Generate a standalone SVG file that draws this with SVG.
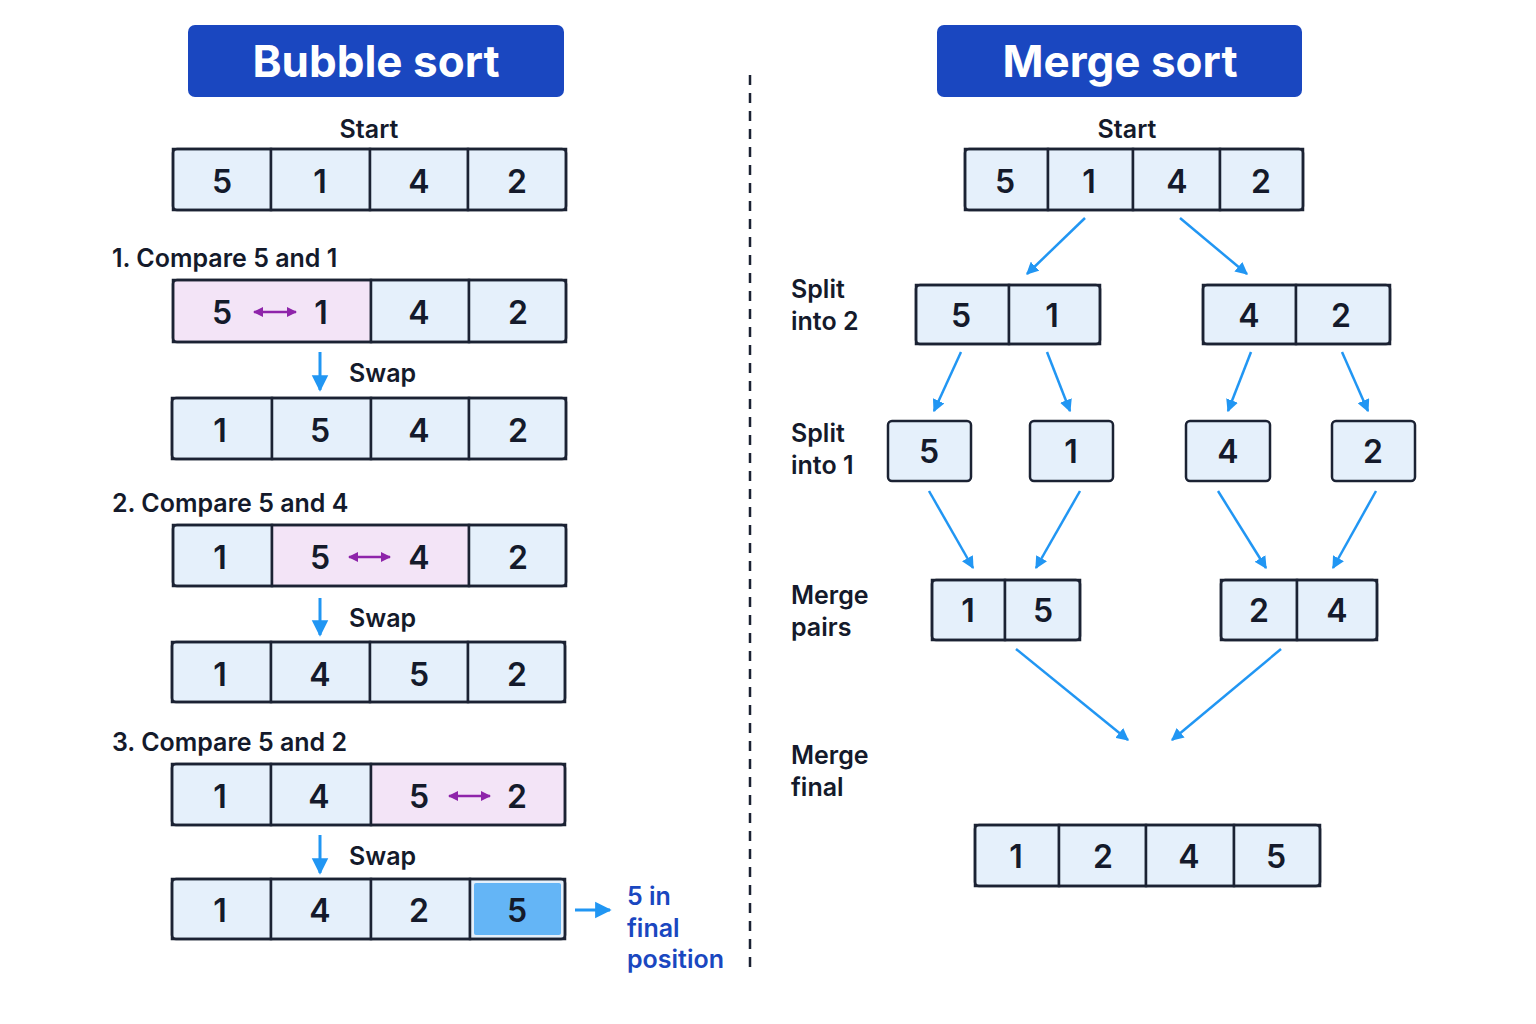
<svg xmlns="http://www.w3.org/2000/svg" width="1536" height="1024" viewBox="0 0 1536 1024">
<style>
.c{fill:#e5f0fb;stroke:#1b2233;stroke-width:2.5}
.p{fill:#f3e4f7;stroke:#1b2233;stroke-width:2.5}
.h{fill:#64b5f6;stroke:none}
.o{fill:none;stroke:#1b2233;stroke-width:2.5}
.n{font-family:Inter,"Liberation Sans",sans-serif;font-size:32px;font-weight:600;fill:#141a2b;text-anchor:middle}
.l{font-family:Inter,"Liberation Sans",sans-serif;font-size:25px;font-weight:600;fill:#141a2b}
.t{font-family:Inter,"Liberation Sans",sans-serif;font-size:44px;font-weight:700;fill:#fff;text-anchor:middle}
.a{stroke:#2196f3;stroke-width:2.5;fill:none;marker-end:url(#ah)}
.b{stroke:#2196f3;stroke-width:3;fill:none;marker-end:url(#ah2)}
.d{stroke:#8e24aa;stroke-width:2.5;marker-start:url(#pa);marker-end:url(#pa)}
</style>
<defs>
<marker id="ah" viewBox="0 0 10 10" refX="9" refY="5" markerWidth="5" markerHeight="5" orient="auto"><path d="M0,0L10,5L0,10z" fill="#2196f3"/></marker>
<marker id="ah2" viewBox="0 0 10 10" refX="9" refY="5" markerWidth="5.5" markerHeight="6" orient="auto"><path d="M0,0L10,5L0,10z" fill="#2196f3"/></marker>
<marker id="pa" viewBox="0 0 10 10" refX="9" refY="5" markerWidth="4" markerHeight="4" orient="auto-start-reverse"><path d="M0,0L10,5L0,10z" fill="#8e24aa"/></marker>
</defs>
<rect width="1536" height="1024" fill="#fff"/>
<g id="title-bubble"><rect x="188" y="25" width="376" height="72" rx="7" fill="#1a47c0"/><text class="t" x="376" y="77">Bubble sort</text></g>
<g id="title-merge"><rect x="937" y="25" width="365" height="72" rx="7" fill="#1a47c0"/><text class="t" x="1120" y="77">Merge sort</text></g>
<line x1="750" y1="75" x2="750" y2="970" stroke="#1b2233" stroke-width="2.5" stroke-dasharray="10,8"/>

<g id="b-start"><text class="l" x="369" y="138" text-anchor="middle">Start</text>
<rect class="c" x="173" y="149" width="98" height="61"/><rect class="c" x="271" y="149" width="99" height="61"/><rect class="c" x="370" y="149" width="98" height="61"/><rect class="c" x="468" y="149" width="98" height="61"/><rect class="o" x="173" y="149" width="393" height="61" rx="4"/>
<text class="n" x="222" y="193">5</text><text class="n" x="320" y="193">1</text><text class="n" x="419" y="193">4</text><text class="n" x="517" y="193">2</text></g>

<g id="b-step1"><text class="l" x="112" y="267">1. Compare 5 and 1</text>
<rect class="p" x="173" y="280" width="198" height="62"/><rect class="c" x="371" y="280" width="98" height="62"/><rect class="c" x="469" y="280" width="97" height="62"/><rect class="o" x="173" y="280" width="393" height="62" rx="4"/>
<text class="n" x="222" y="324">5</text><line class="d" x1="254" y1="312" x2="296" y2="312"/><text class="n" x="321" y="324">1</text><text class="n" x="419" y="324">4</text><text class="n" x="518" y="324">2</text></g>
<g id="b-swap1"><text class="l" x="349" y="382">Swap</text>
<rect class="c" x="172" y="398" width="100" height="61"/><rect class="c" x="272" y="398" width="99" height="61"/><rect class="c" x="371" y="398" width="98" height="61"/><rect class="c" x="469" y="398" width="97" height="61"/><rect class="o" x="172" y="398" width="394" height="61" rx="4"/>
<text class="n" x="220" y="442">1</text><text class="n" x="320" y="442">5</text><text class="n" x="419" y="442">4</text><text class="n" x="518" y="442">2</text></g>

<g id="b-step2"><text class="l" x="112" y="512">2. Compare 5 and 4</text>
<rect class="c" x="173" y="525" width="99" height="61"/><rect class="p" x="272" y="525" width="197" height="61"/><rect class="c" x="469" y="525" width="97" height="61"/><rect class="o" x="173" y="525" width="393" height="61" rx="4"/>
<text class="n" x="220" y="569">1</text><text class="n" x="320" y="569">5</text><line class="d" x1="349" y1="557" x2="390" y2="557"/><text class="n" x="419" y="569">4</text><text class="n" x="518" y="569">2</text></g>
<g id="b-swap2"><text class="l" x="349" y="627">Swap</text>
<rect class="c" x="172" y="642" width="99" height="60"/><rect class="c" x="271" y="642" width="99" height="60"/><rect class="c" x="370" y="642" width="98" height="60"/><rect class="c" x="468" y="642" width="97" height="60"/><rect class="o" x="172" y="642" width="393" height="60" rx="4"/>
<text class="n" x="220" y="686">1</text><text class="n" x="320" y="686">4</text><text class="n" x="419" y="686">5</text><text class="n" x="517" y="686">2</text></g>

<g id="b-step3"><text class="l" x="112" y="751">3. Compare 5 and 2</text>
<rect class="c" x="172" y="764" width="99" height="61"/><rect class="c" x="271" y="764" width="100" height="61"/><rect class="p" x="371" y="764" width="194" height="61"/><rect class="o" x="172" y="764" width="393" height="61" rx="4"/>
<text class="n" x="220" y="808">1</text><text class="n" x="319" y="808">4</text><text class="n" x="419" y="808">5</text><line class="d" x1="449" y1="796" x2="490" y2="796"/><text class="n" x="517" y="808">2</text></g>
<g id="b-swap3"><text class="l" x="349" y="865">Swap</text>
<rect class="c" x="172" y="879" width="99" height="60"/><rect class="c" x="271" y="879" width="100" height="60"/><rect class="c" x="371" y="879" width="99" height="60"/><rect class="c" x="470" y="879" width="95" height="60"/><rect class="h" x="474" y="883" width="87" height="52" rx="2"/><rect class="o" x="172" y="879" width="393" height="60" rx="4"/>
<text class="n" x="220" y="922">1</text><text class="n" x="320" y="922">4</text><text class="n" x="419" y="922">2</text><text class="n" x="517" y="922">5</text></g>
<g id="note"><text class="l" style="fill:#1a47c0" x="627" y="905">5 in</text><text class="l" style="fill:#1a47c0" x="627" y="937">final</text><text class="l" style="fill:#1a47c0" x="627" y="968">position</text></g>

<g id="m-labels"><text class="l" x="791" y="298">Split</text><text class="l" x="791" y="330">into 2</text>
<text class="l" x="791" y="442">Split</text><text class="l" x="791" y="474">into 1</text>
<text class="l" x="791" y="604">Merge</text><text class="l" x="791" y="636">pairs</text>
<text class="l" x="791" y="764">Merge</text><text class="l" x="791" y="796">final</text></g>

<g id="m-start"><text class="l" x="1127" y="138" text-anchor="middle">Start</text>
<rect class="c" x="965" y="149" width="83" height="61"/><rect class="c" x="1048" y="149" width="85" height="61"/><rect class="c" x="1133" y="149" width="87" height="61"/><rect class="c" x="1220" y="149" width="83" height="61"/><rect class="o" x="965" y="149" width="338" height="61" rx="4"/>
<text class="n" x="1005" y="193">5</text><text class="n" x="1089" y="193">1</text><text class="n" x="1177" y="193">4</text><text class="n" x="1261" y="193">2</text></g>
<g id="m-s2a"><rect class="c" x="916" y="285" width="93" height="59"/><rect class="c" x="1009" y="285" width="91" height="59"/><rect class="o" x="916" y="285" width="184" height="59" rx="4"/><text class="n" x="961" y="327">5</text><text class="n" x="1052" y="327">1</text></g>
<g id="m-s2b"><rect class="c" x="1203" y="285" width="93" height="59"/><rect class="c" x="1296" y="285" width="94" height="59"/><rect class="o" x="1203" y="285" width="187" height="59" rx="4"/><text class="n" x="1249" y="327">4</text><text class="n" x="1341" y="327">2</text></g>
<g id="m-s1a"><rect class="c" x="888" y="421" width="83" height="60" rx="4"/><text class="n" x="929" y="463">5</text></g>
<g id="m-s1b"><rect class="c" x="1030" y="421" width="83" height="60" rx="4"/><text class="n" x="1071" y="463">1</text></g>
<g id="m-s1c"><rect class="c" x="1186" y="421" width="84" height="60" rx="4"/><text class="n" x="1228" y="463">4</text></g>
<g id="m-s1d"><rect class="c" x="1332" y="421" width="83" height="60" rx="4"/><text class="n" x="1373" y="463">2</text></g>
<g id="m-pa"><rect class="c" x="932" y="580" width="73" height="60"/><rect class="c" x="1005" y="580" width="75" height="60"/><rect class="o" x="932" y="580" width="148" height="60" rx="4"/><text class="n" x="968" y="622">1</text><text class="n" x="1043" y="622">5</text></g>
<g id="m-pb"><rect class="c" x="1221" y="580" width="76" height="60"/><rect class="c" x="1297" y="580" width="80" height="60"/><rect class="o" x="1221" y="580" width="156" height="60" rx="4"/><text class="n" x="1259" y="622">2</text><text class="n" x="1337" y="622">4</text></g>
<g id="m-final"><rect class="c" x="975" y="825" width="84" height="61"/><rect class="c" x="1059" y="825" width="87" height="61"/><rect class="c" x="1146" y="825" width="88" height="61"/><rect class="c" x="1234" y="825" width="86" height="61"/><rect class="o" x="975" y="825" width="345" height="61" rx="4"/>
<text class="n" x="1016" y="868">1</text><text class="n" x="1103" y="868">2</text><text class="n" x="1189" y="868">4</text><text class="n" x="1276" y="868">5</text></g>

<g id="connectors">
<line class="b" x1="320" y1="352" x2="320" y2="390"/>
<line class="b" x1="320" y1="598" x2="320" y2="635"/>
<line class="b" x1="320" y1="835" x2="320" y2="873"/>
<line class="b" x1="575" y1="910" x2="610" y2="910"/>
<line class="a" x1="1085" y1="218" x2="1027" y2="274"/>
<line class="a" x1="1180" y1="218" x2="1247" y2="274"/>
<line class="a" x1="961" y1="352" x2="934" y2="411"/>
<line class="a" x1="1047" y1="352" x2="1070" y2="411"/>
<line class="a" x1="1251" y1="352" x2="1228" y2="411"/>
<line class="a" x1="1342" y1="352" x2="1368" y2="411"/>
<line class="a" x1="929" y1="491" x2="973" y2="568"/>
<line class="a" x1="1080" y1="491" x2="1036" y2="568"/>
<line class="a" x1="1218" y1="491" x2="1266" y2="568"/>
<line class="a" x1="1376" y1="491" x2="1333" y2="568"/>
<line class="a" x1="1016" y1="649" x2="1128" y2="740"/>
<line class="a" x1="1281" y1="649" x2="1172" y2="740"/>
</g>
</svg>
